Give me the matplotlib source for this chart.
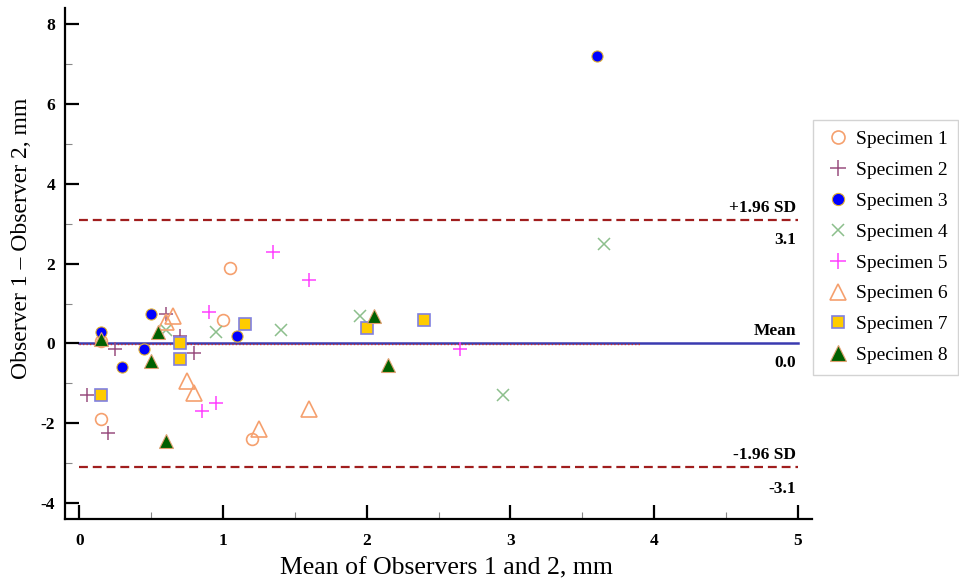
import matplotlib
matplotlib.use("Agg")
import matplotlib.pyplot as plt
from matplotlib.ticker import MultipleLocator

plt.rcParams['font.family'] = ['Liberation Serif', 'DejaVu Serif']
plt.rcParams['axes.unicode_minus'] = False

# Data: (mean of observers, difference) per specimen
s1_x = [0.15, 0.15, 1.0, 1.05, 1.2]
s1_y = [0.05, -1.9, 0.6, 1.9, -2.4]
s2_x = [0.6, 0.25, 0.7, 0.8, 0.05, 0.2]
s2_y = [0.75, -0.15, 0.2, -0.25, -1.3, -2.25]
s3_x = [0.5, 0.15, 0.45, 0.3, 1.1, 3.6]
s3_y = [0.75, 0.3, -0.15, -0.6, 0.2, 7.2]
s4_x = [0.6, 0.95, 1.4, 1.95, 3.65, 2.95]
s4_y = [0.35, 0.3, 0.35, 0.7, 2.5, -1.3]
s5_x = [0.9, 0.95, 0.85, 1.35, 1.6, 2.65]
s5_y = [0.8, -1.5, -1.7, 2.3, 1.6, -0.15]
s6_x = [0.65, 0.6, 0.75, 0.8, 1.25, 1.6]
s6_y = [0.7, 0.55, -0.95, -1.25, -2.15, -1.65]
s7_x = [0.7, 0.7, 0.15, 1.15, 2.0, 2.4]
s7_y = [0.0, -0.4, -1.3, 0.5, 0.4, 0.6]
s8_x = [0.15, 0.55, 0.5, 0.6, 2.05, 2.15]
s8_y = [0.1, 0.3, -0.45, -2.45, 0.7, -0.55]

mean_diff = 0.0
upper_loa = 3.1
lower_loa = -3.1
labels = ["Specimen 1", "Specimen 2", "Specimen 3", "Specimen 4",
          "Specimen 5", "Specimen 6", "Specimen 7", "Specimen 8"]

fig = plt.figure(figsize=(9.59, 5.82), dpi=100)
ax = fig.add_axes([0.0678, 0.108, 0.779, 0.878])

ax.set_xlim(-0.1, 5.1)
ax.set_ylim(-4.4, 8.4)

# reference lines
ax.plot([0, 5], [upper_loa, upper_loa], color='#a01e1e', lw=1.6, ls=(0, (4, 2.2)), zorder=1)
ax.plot([0, 5], [lower_loa, lower_loa], color='#a01e1e', lw=1.6, ls=(0, (4, 2.2)), zorder=1)
ax.plot([0, 5], [mean_diff, mean_diff], color='#3a3ab0', lw=1.8, zorder=1)
ax.plot([0, 3.9], [mean_diff - 0.02, mean_diff - 0.02], color='#c83030', lw=1.0, ls=(0, (1, 1.5)), zorder=1.1)

orange = '#f5a06e'
h = []
h.append(ax.plot(s1_x, s1_y, ls='none', marker='o', ms=8.5, mfc='none', mec=orange, mew=1.2, zorder=3)[0])
h.append(ax.plot(s2_x, s2_y, ls='none', marker='+', ms=10, mec='#9a4f80', mew=1.1, zorder=3)[0])
h.append(ax.plot(s3_x, s3_y, ls='none', marker='o', ms=8, mfc='#0000ff', mec='#e0b030', mew=0.8, zorder=3)[0])
h.append(ax.plot(s4_x, s4_y, ls='none', marker='x', ms=8, mec='#8cbf8c', mew=1.1, zorder=3)[0])
h.append(ax.plot(s5_x, s5_y, ls='none', marker='+', ms=10, mec='#ff40ff', mew=1.1, zorder=3)[0])
h.append(ax.plot(s6_x, s6_y, ls='none', marker='^', ms=11, mfc='none', mec=orange, mew=1.2, zorder=3)[0])
h.append(ax.plot(s7_x, s7_y, ls='none', marker='s', ms=8.5, mfc='#ffcc00', mec='#8080e0', mew=1.2, zorder=3)[0])
h.append(ax.plot(s8_x, s8_y, ls='none', marker='^', ms=10, mfc='#006000', mec='#e0a070', mew=0.8, zorder=3)[0])

# annotations
fs_ann = 12.5
ax.text(4.99, upper_loa + 0.1, "+1.96 SD", ha='right', va='bottom', fontsize=fs_ann, fontweight='bold')
ax.text(4.99, upper_loa - 0.3, f"{upper_loa:.1f}", ha='right', va='top', fontsize=fs_ann, fontweight='bold')
ax.text(4.99, mean_diff + 0.1, "Mean", ha='right', va='bottom', fontsize=fs_ann, fontweight='bold')
ax.text(4.99, mean_diff - 0.3, f"{mean_diff:.1f}", ha='right', va='top', fontsize=fs_ann, fontweight='bold')
ax.text(4.99, lower_loa + 0.1, "-1.96 SD", ha='right', va='bottom', fontsize=fs_ann, fontweight='bold')
ax.text(4.99, lower_loa - 0.35, f"{lower_loa:.1f}", ha='right', va='top', fontsize=fs_ann, fontweight='bold')

# axes styling
for s in ['top', 'right']:
    ax.spines[s].set_visible(False)
for s in ['left', 'bottom']:
    ax.spines[s].set_linewidth(1.6)
ax.xaxis.set_major_locator(MultipleLocator(1))
ax.xaxis.set_minor_locator(MultipleLocator(0.5))
ax.yaxis.set_major_locator(MultipleLocator(2))
ax.yaxis.set_minor_locator(MultipleLocator(1))
ax.tick_params(which='major', direction='in', length=10, width=1.6, labelsize=12.5)
ax.tick_params(which='minor', direction='in', length=5, width=0.8, color='#888888')
ax.tick_params(axis='x', which='major', pad=10)
ax.tick_params(axis='y', which='major', pad=7)
for lab in ax.get_xticklabels() + ax.get_yticklabels():
    lab.set_fontweight('bold')

ax.set_xlabel("Mean of Observers 1 and 2, mm", fontsize=18.5)
ax.xaxis.set_label_coords(0.51, -0.075)
ax.set_ylabel("Observer 1 \u2013 Observer 2, mm", fontsize=17)
ax.yaxis.set_label_coords(-0.044, 0.55)

leg = fig.legend(h, labels, loc='upper left', bbox_to_anchor=(0.848, 0.794),
                 frameon=True, fancybox=False, fontsize=14, handletextpad=0.15,
                 handlelength=1.48, labelspacing=0.68, borderpad=0.55, borderaxespad=0,
                 markerscale=1.1)
leg.get_frame().set_edgecolor('#c8c8c8')
leg.get_frame().set_linewidth(1.0)

fig.savefig("out.png", dpi=100)
